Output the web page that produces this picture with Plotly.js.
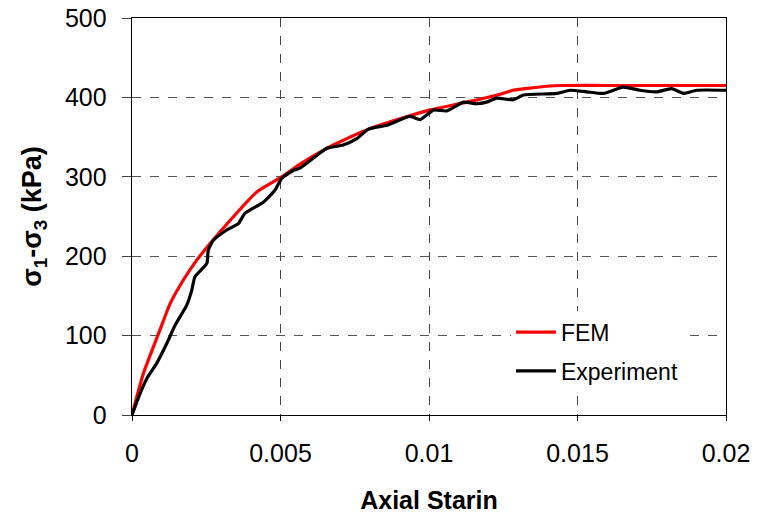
<!DOCTYPE html>
<html><head><meta charset="utf-8">
<script src="https://cdn.plot.ly/plotly-3.0.1.min.js"></script>
<style>html,body{margin:0;padding:0;background:#fff}#c{width:758px;height:518px}</style>
</head><body><div id="c"></div>
<script>
const femX = [0, 0.00038, 0.00094, 0.00128, 0.00173, 0.00218, 0.00263, 0.0033, 0.0042, 0.00504, 0.00566, 0.00633, 0.00678, 0.0079, 0.00902, 0.01003, 0.01127, 0.01239, 0.01283, 0.01396, 0.0145, 0.016, 0.018, 0.02];
const femY = [0, 52, 107, 140, 170, 195, 216, 245, 281, 300, 316, 331, 340, 359, 373, 384, 394, 404, 409, 414, 415, 415, 415, 415];
const expX = [0, 0.00027, 0.0005, 0.00083, 0.00117, 0.00145, 0.00184, 0.00201, 0.00212, 0.00252, 0.00257, 0.00274, 0.00319, 0.00358, 0.0038, 0.00442, 0.00481, 0.00504, 0.00543, 0.00566, 0.00633, 0.00656, 0.00711, 0.00757, 0.00796, 0.00858, 0.00936, 0.0097, 0.01015, 0.0106, 0.01116, 0.0116, 0.01194, 0.01228, 0.01284, 0.01318, 0.0143, 0.01475, 0.01531, 0.01587, 0.01654, 0.0171, 0.01767, 0.01817, 0.01857, 0.01901, 0.02];
const expY = [0, 27, 46, 65, 90, 113, 138, 157, 174, 191, 208, 220, 233, 241, 254, 268, 283, 298, 308, 311, 330, 336, 340, 348, 360, 365, 376, 372, 384, 383, 394, 392, 394, 399, 397, 403, 405, 409, 407, 405, 413, 409, 407, 411, 405, 409, 409];
const xTicks = [0, 0.005, 0.01, 0.015, 0.02];
const xTickLabels = ["0", "0.005", "0.01", "0.015", "0.02"];
const yTicks = [0, 100, 200, 300, 400, 500];

const font = "Liberation Sans, Arial, sans-serif";
Plotly.newPlot('c', [
  {x: femX, y: femY, name: 'FEM', legendgroup: 'a', mode: 'lines', line: {color: '#ff0000', width: 3.2, shape: 'spline', smoothing: 0.5}},
  {x: expX, y: expY, name: 'Experiment', legendgroup: 'b', mode: 'lines', line: {color: '#000000', width: 3.2, shape: 'spline', smoothing: 0.5}}
], {
  width: 758, height: 518,
  margin: {l: 132, r: 32, t: 18, b: 103},
  paper_bgcolor: '#fff', plot_bgcolor: '#fff',
  font: {family: font, color: '#000', size: 18},
  showlegend: true,
  legend: {x: 0.638, y: 0.263, xanchor: 'left', yanchor: 'top', bgcolor: '#fff', font: {size: 23, family: font}, traceorder: 'grouped', tracegroupgap: 6, itemwidth: 40},
  xaxis: {range: [0, 0.02], tickvals: xTicks, ticktext: xTickLabels, showline: true, mirror: true, linecolor: '#000', linewidth: 1.3,
          ticks: 'outside', ticklen: 5, tickcolor: '#000', ticklabelstandoff: 11, showgrid: true, gridcolor: '#444', griddash: 'dash', gridwidth: 1, zeroline: false,
          tickfont: {size: 25}, title: {text: '<b>Axial Starin</b>', font: {size: 25}, standoff: 25}},
  yaxis: {range: [0, 500], tickvals: yTicks, showline: true, mirror: true, linecolor: '#000', linewidth: 1.3,
          ticks: 'outside', ticklen: 9, tickcolor: '#444', ticklabelstandoff: 10, showgrid: true, gridcolor: '#555', griddash: 'dash', gridwidth: 1, zeroline: false,
          tickfont: {size: 25}, title: {text: '<b>σ<sub>1</sub>-σ<sub>3</sub> (kPa)</b>', font: {size: 27}, standoff: 15}}
}, {displayModeBar: false, staticPlot: true});
</script></body></html>
